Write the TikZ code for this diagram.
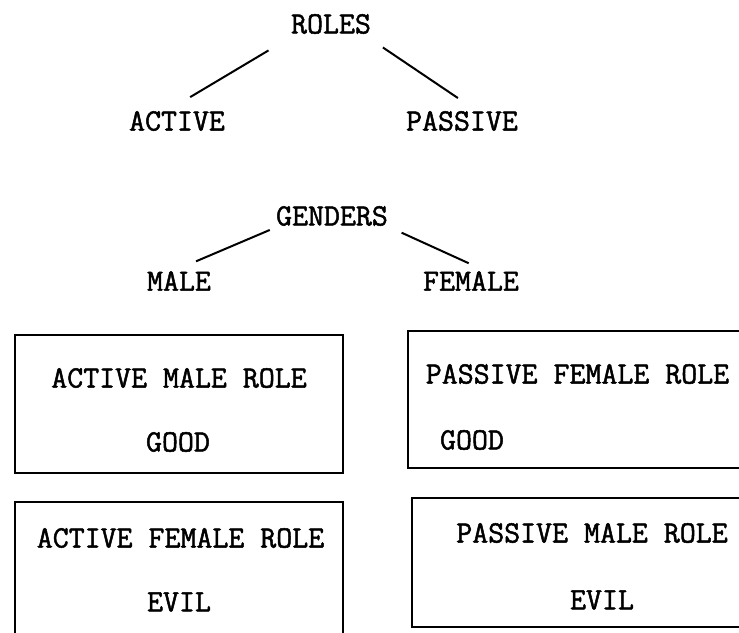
\documentclass[tikz,border=0pt]{standalone}
\usepackage{fontspec}
\newfontfamily\typefont{Latin Modern Mono}[FakeBold=1.6]

\begin{document}
\begin{tikzpicture}[x=1pt,y=-1pt,font=\fontsize{31}{37}\selectfont\typefont,
  lbl/.style={inner sep=0pt},
  branch/.style={line width=2pt},
  rolebox/.style={draw,line width=2pt,inner sep=0pt}]
\clip (0,0) rectangle (739,632);
\node[lbl] (roles) at (331,24) {ROLES};
\node[lbl] (active) at (177,121) {ACTIVE};
\node[lbl] (passive) at (462,121) {PASSIVE};
\draw[branch,shorten <=32pt,shorten >=27pt] ([xshift=-35pt]roles.south) -- ([xshift=-10pt]active.north);
\draw[branch,shorten <=24pt,shorten >=23pt] ([xshift=32pt]roles.south) -- ([xshift=15pt]passive.north);
\node[lbl] (genders) at (332,216) {GENDERS};
\node[lbl] (male) at (179,281) {MALE};
\node[lbl] (female) at (471,281) {FEMALE};
\draw[branch,shorten <=10pt,shorten >=25pt] ([xshift=-53pt]genders.south) -- ([xshift=-6pt]male.north);
\draw[branch,shorten <=16pt,shorten >=19pt] ([xshift=55pt]genders.south) -- ([xshift=15pt]female.north);
\node[rolebox,minimum width=328pt,minimum height=138pt] (amrbox) at (179,404) {};
\node[lbl] (amr) at (179,378) {ACTIVE MALE ROLE};
\node[lbl] (amrgood) at (178,442) {GOOD};
\node[rolebox,minimum width=352pt,minimum height=137pt] (pfrbox) at (584,399.5) {};
\node[lbl] (pfr) at (577.5,374) {PASSIVE FEMALE ROLE};
\node[lbl] (pfrgood) at (472,440) {GOOD};
\node[rolebox,minimum width=328pt,minimum height=138pt] (afrbox) at (179,571) {};
\node[lbl] (afr) at (180.5,538) {ACTIVE FEMALE ROLE};
\node[lbl] (afrevil) at (179,602) {EVIL};
\node[rolebox,minimum width=348pt,minimum height=129pt] (pmrbox) at (586,562.5) {};
\node[lbl] (pmr) at (592,533) {PASSIVE MALE ROLE};
\node[lbl] (pmrevil) at (602,600) {EVIL};
\end{tikzpicture}
\end{document}
